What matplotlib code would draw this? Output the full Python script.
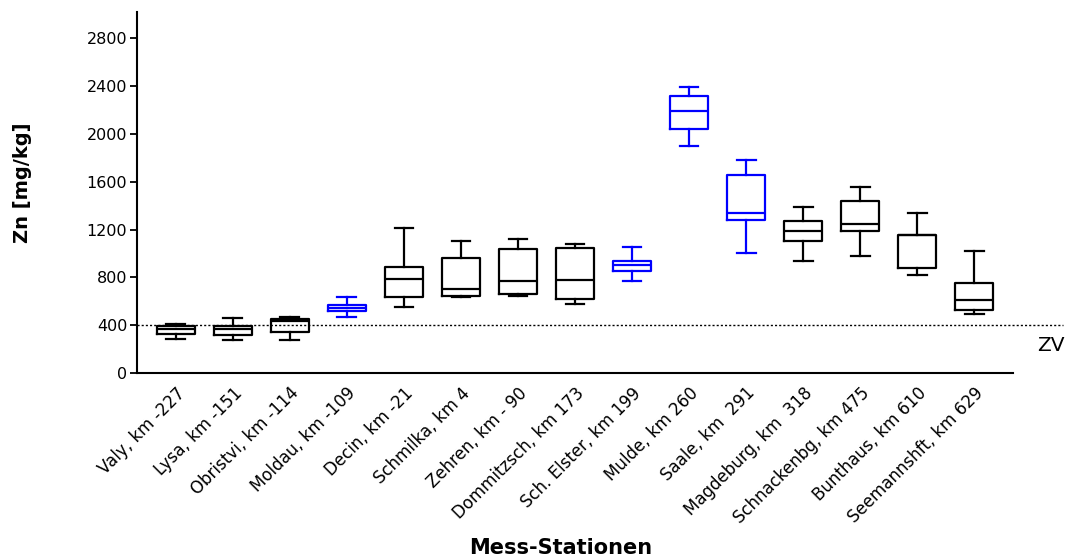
import matplotlib
matplotlib.use('Agg')
import matplotlib.pyplot as plt

# Zn concentrations in sediments along the Elbe, box plot summary per station
stations = ['Valy, km -227', 'Lysa, km -151', 'Obristvi, km -114', 'Moldau, km -109',
            'Decin, km -21', 'Schmilka, km 4', 'Zehren, km - 90', 'Dommitzsch, km 173',
            'Sch. Elster, km 199', 'Mulde, km 260', 'Saale, km  291', 'Magdeburg, km  318',
            'Schnackenbg, km 475', 'Bunthaus, km 610', 'Seemannshft, km 629']
whisk_lo = [284, 276, 276, 468, 554, 635, 646, 576, 766, 1902, 1000, 938, 980, 816, 490]
q1 = [326, 315, 343, 521, 632, 641, 660, 621, 852, 2038, 1284, 1105, 1186, 877, 524]
median = [367, 370, 432, 545, 783, 704, 771, 777, 905, 2189, 1337, 1184, 1245, 1155, 612]
q3 = [395, 390, 449, 565, 891, 961, 1036, 1050, 933, 2320, 1660, 1273, 1437, 1155, 752]
whisk_hi = [412, 462, 470, 632, 1214, 1103, 1122, 1083, 1058, 2392, 1779, 1392, 1557, 1337, 1022]
# tributaries drawn in blue
tributary = [False, False, False, True, False, False, False, False,
             True, True, True, False, False, False, False]
zv_value = 400

plt.rcParams['font.family'] = ['DejaVu Sans']

fig = plt.figure(figsize=(10.68, 5.59), dpi=100, facecolor='w')
ax = fig.add_axes([0.1283, 0.3327, 0.8202, 0.6458])

for i in range(len(stations)):
    c = '#0000ff' if tributary[i] else 'black'
    stats = [dict(whislo=whisk_lo[i], q1=q1[i], med=median[i], q3=q3[i], whishi=whisk_hi[i], fliers=[])]
    lp = dict(color=c, linewidth=1.6)
    ax.bxp(stats, positions=[i + 1], widths=0.66, showfliers=False,
           boxprops=lp, medianprops=lp, whiskerprops=lp, capprops=lp,
           capwidths=0.33, manage_ticks=False)

# Zielvorgabe line, runs past the axis end
ax.plot([0, 1.057], [zv_value, zv_value], transform=ax.get_yaxis_transform(),
        clip_on=False, color='black', linewidth=1.0, linestyle=(0, (1.5, 1.5)))
ax.text(1.0275, 234, 'ZV', transform=ax.get_yaxis_transform(), ha='left', va='center',
        fontsize=14.5)

ax.set_xlim(0.32, 15.68)
ax.set_ylim(0, 3020)
ax.set_yticks([0, 400, 800, 1200, 1600, 2000, 2400, 2800])
ax.set_xticks(range(1, len(stations) + 1))
ax.set_xticklabels(stations, rotation=45, ha='right', rotation_mode='anchor', fontsize=12)
ax.tick_params(axis='x', length=0, pad=8)
ax.tick_params(axis='y', direction='out', length=5, width=1.3, labelsize=11.5, pad=2)

ax.spines['right'].set_visible(False)
ax.spines['top'].set_visible(False)
ax.spines['left'].set_linewidth(1.5)
ax.spines['bottom'].set_linewidth(1.5)

ax.set_ylabel('Zn [mg/kg]', fontsize=14, fontweight='bold')
ax.yaxis.set_label_coords(-0.12, 0.526)
fig.text(0.525, 0.0197, 'Mess-Stationen', ha='center', va='center', fontsize=15, fontweight='bold')

fig.savefig('out.png', dpi=100)
plt.close()
